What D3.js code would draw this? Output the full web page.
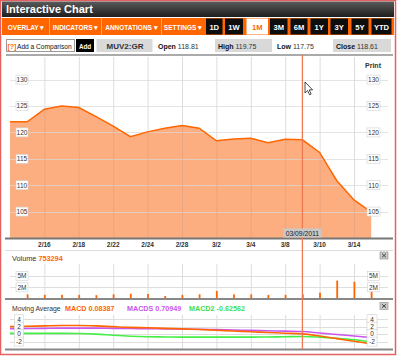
<!DOCTYPE html>
<html><head><meta charset="utf-8">
<script src="https://cdn.jsdelivr.net/npm/d3@7/dist/d3.min.js"></script>
<style>
html,body{margin:0;padding:0;background:#fff;}
svg{display:block;font-family:"Liberation Sans",Arial,sans-serif;}
</style></head>
<body>
<svg id="c" width="400" height="356"></svg>
<script>
// ---------- data ----------
const dates = ["2/14","2/15","2/16","2/17","2/18","2/21","2/22","2/23","2/24","2/25","2/28",
  "3/1","3/2","3/3","3/4","3/7","3/8","3/9","3/10","3/11","3/14","3/15"];
const dateLabels = ["2/16","2/18","2/22","2/24","2/28","3/2","3/4","3/8","3/10","3/14"];
const closePrice = [122.0,122.0,124.4,125.0,124.7,123.0,121.2,119.2,120.1,120.8,121.3,
  120.8,118.4,118.75,118.9,118.05,118.7,118.6,116.2,110.85,107.2,104.9];
const volume = [null,750000,650000,650000,650000,600000,750000,850000,800000,450000,650000,
  750000,1350000,750000,750000,650000,650000,753294,1050000,3200000,3000000,1200000];
const macd  = [2.0,2.1,2.2,2.3,2.3,2.2,2.0,1.8,1.7,1.55,1.4,1.25,1.05,0.85,0.65,0.45,0.25,0.08,-0.5,-1.2,-1.9,-2.6];
const macds = [1.45,1.5,1.55,1.6,1.6,1.6,1.55,1.5,1.45,1.4,1.35,1.3,1.2,1.1,1.0,0.9,0.8,0.71,0.3,-0.1,-0.5,-0.9];
const macd2 = [0.2,0.2,0.2,0.2,0.15,0.0,-0.3,-0.55,-0.7,-0.75,-0.8,-0.8,-0.8,-0.8,-0.8,-0.75,-0.7,-0.63,-0.8,-1.1,-1.5,-2.1];
const priceTicks = [105,110,115,120,125,130];
const volTickValues = [2000000,4000000];
const volTickLabels = ["2M","5M"];
const macdTicks = [4,2,0,-2];
const menus = ["OVERLAY ▾","INDICATORS ▾","ANNOTATIONS ▾","SETTINGS ▾"];
const ranges = ["1D","1W","1M","3M","6M","1Y","3Y","5Y","YTD"];
const hoverIndex = 17;

// ---------- layout ----------
const svg = d3.select("#c");
const X0 = 10, X1 = 371.2, GR = 388;
const x = d3.scaleLinear().domain([0, dates.length-1]).range([X0, X1]);
const y = d3.scaleLinear().domain([100,130]).range([238, 79.6]);
const yv = d3.scaleLinear().domain([0, 4000000]).range([298.5, 276.1]);
const ym = d3.scaleLinear().domain([-2, 4]).range([341.6, 319.2]);
const ORANGE = "#ff6600";

// frame
svg.append("rect").attr("x",0.5).attr("y",0.5).attr("width",395).attr("height",354)
  .attr("fill","#fff").attr("stroke","#e46060").attr("stroke-width",1.5);

// header bar
const hg = svg.append("defs").append("linearGradient").attr("id","hdr").attr("x1",0).attr("x2",0).attr("y1",0).attr("y2",1);
hg.append("stop").attr("offset","0").attr("stop-color","#5a5a5a");
hg.append("stop").attr("offset","1").attr("stop-color","#1e1e1e");
svg.append("rect").attr("x",2).attr("y",1.5).attr("width",392).attr("height",15.5).attr("fill","url(#hdr)");
svg.append("text").attr("x",6).attr("y",13).attr("fill","#fff").attr("font-size",11).attr("font-weight","bold").text("Interactive Chart");

// toolbar
svg.append("rect").attr("x",2).attr("y",18).attr("width",392).attr("height",17).attr("fill",ORANGE);
const menuX = [[3,49],[50,101],[102,161],[162,204]];
menus.forEach((m,i)=>{
  const [a,b] = menuX[i];
  svg.append("text").attr("x",(a+b)/2).attr("y",29.5).attr("text-anchor","middle")
    .attr("fill","#fff").attr("font-size",6.5).attr("font-weight","bold").text(m);
  if(i>0) svg.append("line").attr("x1",a-0.5).attr("x2",a-0.5).attr("y1",18).attr("y2",35).attr("stroke","#ffa070").attr("stroke-width",1);
});
const rangeX = [[206,222.5],[225,243],[246.5,268],[270,287.5],[290.5,307.5],[310.5,328],[330.5,348],[351.5,368.5],[371.5,391.5]];
ranges.forEach((r,i)=>{
  const [a,b] = rangeX[i];
  const sel = r === "1M";
  svg.append("rect").attr("x",a).attr("y",18.5).attr("width",b-a).attr("height",16)
    .attr("fill", sel ? "#fff" : "#0d0d0d");
  svg.append("text").attr("x",(a+b)/2).attr("y",30).attr("text-anchor","middle")
    .attr("fill", sel ? ORANGE : "#fff").attr("font-size",7.6).attr("font-weight","bold").text(r);
});

// info row
svg.append("rect").attr("x",6.5).attr("y",39.5).attr("width",68).attr("height",12).attr("fill","#fff").attr("stroke","#999");
svg.append("text").attr("x",7.5).attr("y",48.5).attr("font-size",7).attr("fill",ORANGE).attr("font-weight","bold").text("[?]");
svg.append("text").attr("x",17).attr("y",48.5).attr("font-size",6.6).attr("fill","#111").text("Add a Comparison");
svg.append("rect").attr("x",76).attr("y",39).attr("width",18).attr("height",13).attr("fill","#000");
svg.append("text").attr("x",85).attr("y",48.5).attr("text-anchor","middle").attr("font-size",6.3).attr("font-weight","bold").attr("fill","#fff").text("Add");
svg.append("rect").attr("x",96.5).attr("y",39).attr("width",56).attr("height",13).attr("fill","#d9d9d9");
svg.append("text").attr("x",125).attr("y",48.8).attr("text-anchor","middle").attr("font-size",8).attr("font-weight","bold").attr("fill","#333").text("MUV2:GR");
function info(xp, label, val, bg, w){
  if(bg) svg.append("rect").attr("x",xp-3).attr("y",39).attr("width",w).attr("height",13).attr("fill",bg);
  const t = svg.append("text").attr("x",xp).attr("y",48.5).attr("font-size",7).attr("fill","#111");
  t.append("tspan").attr("font-weight","bold").text(label+" ");
  t.append("tspan").attr("fill","#333").text(val);
}
info(158,"Open","118.81",null,0);
info(218,"High","119.75","#d9d9d9",57);
info(277,"Low","117.75",null,0);
info(336,"Close","118.61","#d9d9d9",58);

// ---------- main chart ----------
const gridC = "#dedede";
svg.append("line").attr("x1",6).attr("x2",393).attr("y1",55).attr("y2",55).attr("stroke","#aaa").attr("stroke-width",2);
const labelIdx = dateLabels.map(l=>dates.indexOf(l));
svg.append("g").selectAll("line").data(labelIdx).join("line")
  .attr("x1",d=>x(d)+0.5).attr("x2",d=>x(d)+0.5).attr("y1",57).attr("y2",238).attr("stroke",gridC);
svg.append("path").datum(closePrice)
  .attr("d", d3.area().x((d,i)=>x(i)).y0(238).y1(d=>y(d)))
  .attr("fill","#fdae80");
svg.append("g").selectAll("line").data(priceTicks).join("line")
  .attr("x1",X0).attr("x2",GR).attr("y1",d=>Math.round(y(d))+0.5).attr("y2",d=>Math.round(y(d))+0.5)
  .attr("stroke","#d8d8d8").attr("stroke-opacity",0.7);
svg.append("g").selectAll("line").data(labelIdx).join("line")
  .attr("x1",d=>x(d)+0.5).attr("x2",d=>x(d)+0.5).attr("y1",d=>y(closePrice[d])).attr("y2",238).attr("stroke","#e0a080").attr("stroke-opacity",0.6);
svg.append("path").datum(closePrice)
  .attr("d", d3.line().x((d,i)=>x(i)).y(d=>y(d)))
  .attr("fill","none").attr("stroke",ORANGE).attr("stroke-width",1.5);

function boxLabel(cx, cy, txt, w){
  svg.append("rect").attr("x",cx-w/2).attr("y",cy-4.5).attr("width",w).attr("height",9)
    .attr("fill","#fff").attr("stroke","#d0d0d0").attr("stroke-width",0.6);
  svg.append("text").attr("x",cx).attr("y",cy+2.3).attr("text-anchor","middle")
    .attr("font-size",6.5).attr("fill","#333").text(txt);
}
priceTicks.forEach(t=>{
  boxLabel(22, y(t), String(t), 12);
  boxLabel(373.5, y(t), String(t), 13);
});
svg.append("text").attr("x",373).attr("y",68).attr("text-anchor","middle").attr("font-size",7).attr("font-weight","bold").attr("fill","#333").text("Print");

svg.append("line").attr("x1",5).attr("x2",393).attr("y1",238.5).attr("y2",238.5).attr("stroke","#777").attr("stroke-width",2);
svg.append("g").selectAll("text").data(labelIdx).join("text")
  .attr("x",d=>x(d)).attr("y",246.5).attr("text-anchor","middle").attr("font-size",6.5).attr("font-weight","bold").attr("fill","#333")
  .text(d=>dates[d]);

// ---------- volume ----------
svg.append("line").attr("x1",5).attr("x2",393).attr("y1",250.5).attr("y2",250.5).attr("stroke","#ddd");
const vt = svg.append("text").attr("x",12).attr("y",261).attr("font-size",7.3);
vt.append("tspan").attr("fill","#333").text("Volume ");
vt.append("tspan").attr("fill",ORANGE).attr("font-weight","bold").text("753294");
svg.append("g").selectAll("line").data(labelIdx).join("line")
  .attr("x1",d=>x(d)+0.5).attr("x2",d=>x(d)+0.5).attr("y1",264).attr("y2",298).attr("stroke",gridC);
svg.append("g").selectAll("line").data(volTickValues).join("line")
  .attr("x1",X0).attr("x2",GR).attr("y1",d=>Math.round(yv(d))+0.5).attr("y2",d=>Math.round(yv(d))+0.5).attr("stroke",gridC);
svg.append("g").selectAll("rect").data(volume.map((v,i)=>({v,i})).filter(d=>d.v!=null)).join("rect")
  .attr("x",d=>x(d.i)-0.5).attr("width",1.8).attr("y",d=>yv(d.v)).attr("height",d=>yv(0)-yv(d.v)+1).attr("fill",ORANGE);
volTickValues.forEach((t,k)=>{
  boxLabel(22, yv(t), volTickLabels[k], 12);
  boxLabel(373.5, yv(t), volTickLabels[k], 12);
});
svg.append("line").attr("x1",5).attr("x2",393).attr("y1",299).attr("y2",299).attr("stroke","#888").attr("stroke-width",2);

function closeIcon(cx, cy){
  svg.append("rect").attr("x",cx-4).attr("y",cy-3.5).attr("width",8).attr("height",7).attr("fill","#ccc").attr("stroke","#888").attr("stroke-width",0.6);
  svg.append("path").attr("d",`M${cx-2},${cy-1.8}L${cx+2},${cy+1.8}M${cx+2},${cy-1.8}L${cx-2},${cy+1.8}`).attr("stroke","#333").attr("stroke-width",0.9);
}
closeIcon(384,255.5);
closeIcon(384,306);

// ---------- MACD ----------
svg.append("text").attr("x",12).attr("y",311).attr("font-size",6.8).attr("fill","#333").text("Moving Average");
svg.append("text").attr("x",65).attr("y",311).attr("font-size",7.2).attr("font-weight","bold").attr("fill",ORANGE).text("MACD 0.08387");
svg.append("text").attr("x",127).attr("y",311).attr("font-size",7.2).attr("font-weight","bold").attr("fill","#cc55ee").text("MACDS 0.70949");
svg.append("text").attr("x",189).attr("y",311).attr("font-size",7.2).attr("font-weight","bold").attr("fill","#44dd44").text("MACD2 -0.62562");
svg.append("g").selectAll("line").data(labelIdx).join("line")
  .attr("x1",d=>x(d)+0.5).attr("x2",d=>x(d)+0.5).attr("y1",315).attr("y2",349).attr("stroke",gridC);
svg.append("g").selectAll("line").data(macdTicks).join("line")
  .attr("x1",X0).attr("x2",GR).attr("y1",d=>Math.round(ym(d))+0.5).attr("y2",d=>Math.round(ym(d))+0.5).attr("stroke",gridC);
const ml = d3.line().x((d,i)=>x(i)).y(d=>ym(d)).curve(d3.curveMonotoneX);
[[macd2,"#44ee44"],[macds,"#cc55ee"],[macd,ORANGE]].forEach(([s,c])=>{
  svg.append("path").datum(s).attr("d",ml).attr("fill","none").attr("stroke",c).attr("stroke-width",1.6);
});
macdTicks.forEach(t=>{
  boxLabel(19, ym(t), String(t), 9);
  boxLabel(372, ym(t), String(t), 10);
});
svg.append("line").attr("x1",5).attr("x2",393).attr("y1",349.5).attr("y2",349.5).attr("stroke","#888").attr("stroke-width",2);

// ---------- crosshair ----------
const hx = x(hoverIndex);
svg.append("line").attr("x1",hx).attr("x2",hx).attr("y1",55).attr("y2",349).attr("stroke","#f07850").attr("stroke-width",1.3);
svg.append("rect").attr("x",hx-19).attr("y",228.5).attr("width",38).attr("height",9).attr("fill","#c8c8c8");
svg.append("text").attr("x",hx).attr("y",235.5).attr("text-anchor","middle").attr("font-size",6.8).attr("fill","#222").text("03/09/2011");

// cursor
svg.append("path").attr("d","M305,82 L305,93 L307.6,90.6 L309.6,94.8 L311.2,94 L309.2,89.9 L312.6,89.9 Z")
  .attr("fill","#fff").attr("stroke","#000").attr("stroke-width",0.7);
</script>
</body></html>
